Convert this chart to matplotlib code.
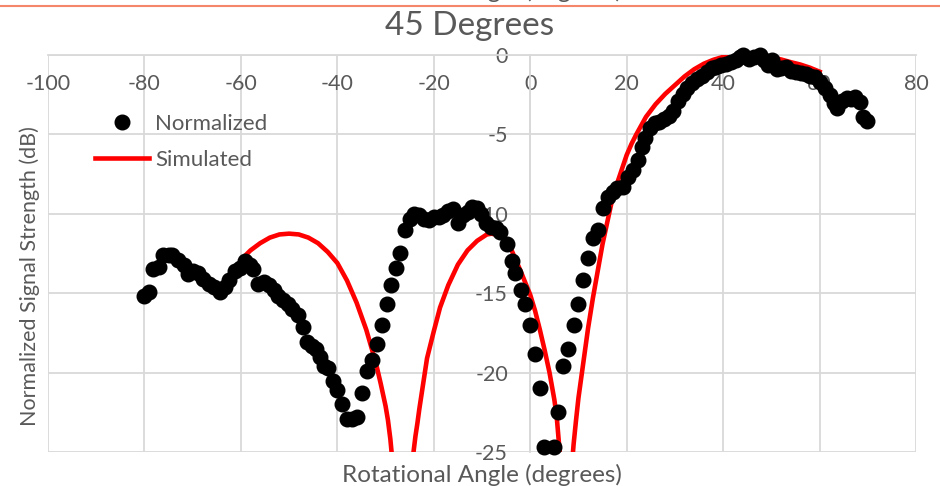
import numpy as np
import matplotlib.pyplot as plt
from matplotlib.lines import Line2D

plt.rcParams['font.family'] = ['Lato', 'DejaVu Sans']
plt.rcParams['axes.unicode_minus'] = False

norm_angle = [-80.1, -79.0, -78.2, -77.0, -76.1, -75.0, -74.2, -73.0, -71.8, -70.9,
              -69.9, -68.9, -67.8, -66.6, -65.5, -64.3, -63.3, -62.4, -61.2, -60.2,
              -59.2, -58.2, -57.5, -56.4, -55.2, -54.1, -53.1, -52.3, -51.3, -50.3,
              -49.3, -48.2, -47.2, -46.2, -45.3, -44.4, -43.6, -42.7, -41.9, -41.0,
              -40.0, -39.0, -38.0, -37.0, -35.9, -34.8, -33.8, -32.8, -31.7, -30.7,
              -29.6, -28.8, -27.9, -27.0, -25.9, -25.0, -24.0, -23.0, -22.0, -21.0,
              -20.0, -19.0, -18.0, -17.0, -16.0, -15.0, -14.0, -13.0, -12.0, -11.0,
              -10.2, -9.2, -8.2, -7.2, -6.2, -4.9, -3.8, -3.1, -1.9, -1.1,
              -0.1, 1.0, 2.0, 2.9, 4.9, 5.8, 6.8, 7.9, 9.0, 10.0,
              11.0, 12.0, 13.1, 14.1, 15.1, 16.1, 17.1, 18.0, 19.2, 20.3,
              21.3, 22.3, 23.1, 23.9, 24.9, 25.9, 26.8, 27.7, 28.7, 29.7,
              30.6, 31.6, 32.6, 33.6, 34.6, 35.6, 36.6, 37.6, 38.6, 39.6,
              40.6, 41.6, 42.6, 43.6, 44.2, 45.3, 46.5, 47.6, 48.5, 49.3,
              50.2, 51.1, 52.1, 53.1, 54.1, 55.1, 56.1, 57.1, 58.1, 59.1,
              60.1, 61.1, 62.1, 63.0, 63.6, 64.6, 65.6, 66.6, 67.4, 68.4,
              69.0, 69.9]
norm_db = [-15.15, -14.95, -13.5, -13.35, -12.6, -12.6, -12.6, -12.9, -13.25, -13.8,
           -13.6, -13.7, -14.1, -14.4, -14.6, -14.95, -14.6, -14.2, -13.6, -13.4,
           -13.0, -13.2, -13.5, -14.4, -14.3, -14.5, -14.8, -15.15, -15.4, -15.7,
           -16.0, -16.4, -17.1, -18.1, -18.3, -18.5, -19.0, -19.6, -19.7, -20.5,
           -21.1, -22.0, -22.9, -22.95, -22.8, -21.3, -19.9, -19.2, -18.2, -17.0,
           -15.7, -14.5, -13.4, -12.5, -11.0, -10.3, -10.0, -10.1, -10.3, -10.4,
           -10.2, -10.2, -10.1, -9.8, -9.7, -10.6, -10.1, -9.9, -9.6, -9.65,
           -10.0, -10.6, -10.85, -10.9, -11.15, -11.9, -13.0, -13.7, -14.8, -15.7,
           -17.0, -18.8, -21.0, -24.7, -24.7, -22.5, -19.6, -18.5, -17.0, -15.7,
           -14.2, -12.8, -11.5, -11.0, -9.65, -8.95, -8.6, -8.4, -8.3, -7.7,
           -7.25, -6.6, -5.8, -5.2, -4.6, -4.3, -4.2, -4.0, -3.85, -3.5,
           -2.9, -2.45, -2.1, -1.75, -1.5, -1.3, -1.05, -0.8, -0.75, -0.65,
           -0.55, -0.45, -0.3, -0.15, 0.0, -0.25, -0.1, 0.0, -0.3, -0.6,
           -0.3, -0.9, -0.85, -0.75, -1.0, -1.1, -1.15, -1.2, -1.3, -1.4,
           -1.7, -2.1, -2.5, -3.0, -3.35, -2.9, -2.7, -2.75, -2.65, -2.95,
           -3.9, -4.15]

# Simulated pattern
sim_angle = [-60, -58, -56, -54, -52, -50, -48, -46, -44, -42,
             -40, -38, -36, -34, -32, -31, -30, -29.5, -29, -28.6,
             -28.2, -27.5, -26.6, -25.6, -24.8, -24.2, -23.8, -23.4, -23, -22.4,
             -21.4, -20, -18.7, -17, -15, -13, -11, -9, -8, -6,
             -4, -2, 0, 1, 2, 3, 4, 5, 5.5, 6,
             6.3, 6.8, 7.3, 7.8, 8.3, 8.6, 9, 9.5, 10, 10.5,
             11, 12, 13, 14, 15, 16, 17, 18, 19, 20,
             21, 22, 24, 26, 28, 30, 32, 34, 36, 38,
             40, 42, 44, 46, 48, 50, 52, 54, 56, 58,
             60]
sim_db = [-12.9, -12.3, -11.85, -11.5, -11.3, -11.25, -11.3, -11.5, -11.85, -12.4,
          -13.1, -14.2, -15.6, -17.3, -19.4, -20.7, -22.1, -23.0, -24.2, -25.5,
          -27.0, -30.0, -35.0, -30.0, -27.0, -25.0, -24.0, -23.2, -22.3, -21.1,
          -19.1, -17.4, -15.9, -14.5, -13.2, -12.3, -11.7, -11.3, -11.25, -11.4,
          -12.2, -13.6, -15.1, -16.1, -17.3, -18.6, -20.0, -21.7, -22.8, -24.6,
          -26.0, -29.0, -35.0, -29.0, -27.0, -26.0, -24.5, -23.0, -21.6, -20.5,
          -19.4, -17.2, -15.3, -13.6, -11.9, -10.5, -9.1, -8.1, -7.2, -6.3,
          -5.6, -5.0, -3.9, -3.1, -2.45, -1.9, -1.35, -0.9, -0.55, -0.3,
          -0.12, -0.02, 0.0, 0.0, -0.05, -0.15, -0.28, -0.45, -0.6, -0.8,
          -1.05]

grid_col = '#d9d9d9'
text_col = '#595959'

fig = plt.figure(figsize=(9.4, 4.86), dpi=100)
ax = fig.add_axes([48 / 940, 1 - 452 / 486, 868 / 940, 397 / 486])

ax.plot(sim_angle, sim_db, color='#ff0000', lw=3.3, label='Simulated', zorder=3)
ax.plot(norm_angle, norm_db, 'o', color='black', ms=10.5, label='Normalized',
        clip_on=False, zorder=4)

ax.set_xlim(-100, 80)
ax.set_ylim(-25, 0)
ax.set_xticks(np.arange(-100, 81, 20))
ax.set_yticks(np.arange(-25, 1, 5))
ax.grid(True, color=grid_col, lw=1.3)
ax.set_axisbelow(True)

# axes cross at (0, 0) like the Excel chart
for side in ['top', 'right']:
    ax.spines[side].set_visible(False)
ax.spines['bottom'].set_position(('data', 0))
ax.spines['left'].set_position(('data', 0))
for side in ['bottom', 'left']:
    ax.spines[side].set_color(grid_col)
    ax.spines[side].set_linewidth(1.3)
ax.tick_params(axis='x', length=0, pad=14, labelsize=15.5, labelcolor=text_col)
ax.tick_params(axis='y', length=0, pad=16, labelsize=15.5, labelcolor=text_col)

fig.text(0.5, 1 - 26 / 486, '45 Degrees', ha='center', va='center',
         fontsize=24, color=text_col)
fig.text(482 / 940, 1 - 475 / 486, 'Rotational Angle (degrees)', ha='center',
         va='center', fontsize=17.5, color=text_col)
fig.text(30 / 940, 1 - 276 / 486, 'Normalized Signal Strength (dB)', ha='center',
         va='center', rotation=90, fontsize=15.5, color=text_col)

# bits of the chart above that show at the top edge
fig.text(482 / 940, 1 + 2 / 486, 'Rotational Angle (degrees)', ha='center',
         va='baseline', fontsize=17.5, color=text_col)
fig.add_artist(Line2D([0, 1], [1 - 6.5 / 486, 1 - 6.5 / 486],
                      transform=fig.transFigure, color='#f4876a', lw=1.5))

handles, labels = ax.get_legend_handles_labels()
ax.legend(handles[::-1], labels[::-1], loc='upper left',
          bbox_to_anchor=(95 / 940, 1 - 114 / 486), bbox_transform=fig.transFigure,
          frameon=False, fontsize=16, labelcolor=text_col, handlelength=2.45,
          handletextpad=0.25, labelspacing=0.7, borderpad=0, borderaxespad=0)

plt.savefig('out.png', dpi=100)
